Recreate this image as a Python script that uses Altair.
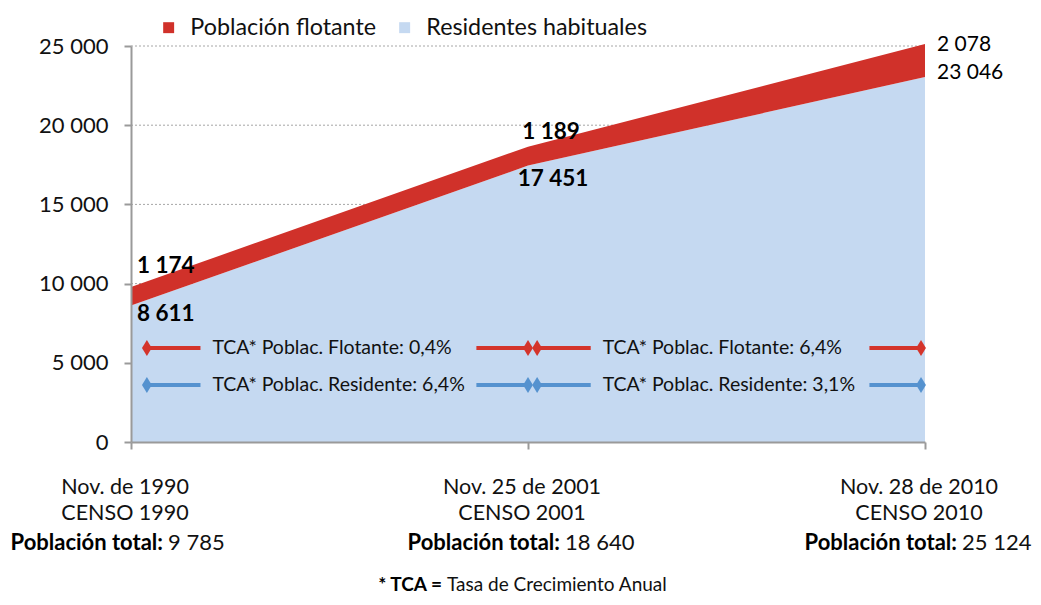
import altair as alt
import pandas as pd

# ---------------- data ----------------
periods = [0, 1, 2]
fecha = ["Nov. de 1990", "Nov. 25 de 2001", "Nov. 28 de 2010"]
censo = ["CENSO 1990", "CENSO 2001", "CENSO 2010"]
residentes = [8611, 17451, 23046]
flotante = [1174, 1189, 2078]
series = ["Población flotante", "Residentes habituales"]
series_colors = ["#d0312a", "#c5d9f1"]
y_ticks = [0, 5000, 10000, 15000, 20000, 25000]
tca_flot = ["TCA* Poblac. Flotante: 0,4%", "TCA* Poblac. Flotante: 6,4%"]
tca_res = ["TCA* Poblac. Residente: 6,4%", "TCA* Poblac. Residente: 3,1%"]
seg_index = [0, 1]

FONT = "Lato"
W, H = 794, 396
RED_LINE = "#d4342b"
BLUE_LINE = "#5592cf"


def fmt(v):
    return f"{v:,}".replace(",", " ")


totals = [r + f for r, f in zip(residentes, flotante)]

area_df = pd.DataFrame(
    {
        "period": periods * 2,
        "series": [series[1]] * 3 + [series[0]] * 3,
        "lower": [0, 0, 0] + residentes,
        "upper": residentes + totals,
    }
)

lab_df = pd.DataFrame(
    {
        "period": periods,
        "res": residentes,
        "tot": totals,
        "res_lbl": [fmt(v) for v in residentes],
        "flo_lbl": [fmt(v) for v in flotante],
        "tot_lbl": [fmt(v) for v in totals],
        "fecha": fecha,
        "censo": censo,
    }
)

grid_df = pd.DataFrame({"tick": y_ticks[1:]})

xscale = alt.Scale(domain=[0, 2], nice=False, zero=False)
yscale = alt.Scale(domain=[0, 25000], nice=False)

base = alt.Chart(lab_df)

grid = (
    alt.Chart(grid_df)
    .mark_rule(color="#a6a6a6", strokeWidth=1, strokeDash=[2, 2])
    .encode(y=alt.Y("tick:Q", scale=yscale), x=alt.value(0), x2=alt.value(W))
)

area = (
    alt.Chart(area_df)
    .mark_area(opacity=1, clip=False)
    .encode(
        x=alt.X(
            "period:Q",
            scale=xscale,
            axis=alt.Axis(
                values=periods,
                labels=False,
                title=None,
                grid=False,
                domainColor="#9a9a9a",
                domainWidth=2,
                tickColor="#9a9a9a",
                tickWidth=2,
                tickSize=7,
                zindex=1,
            ),
        ),
        y=alt.Y(
            "upper:Q",
            scale=yscale,
            axis=alt.Axis(
                values=y_ticks,
                title=None,
                grid=False,
                labelExpr="datum.value >= 1000 ? floor(datum.value/1000) + ' 000' : '0'",
                labelFont=FONT,
                labelFontSize=22,
                labelColor="#111111",
                labelPadding=16,
                domainColor="#9a9a9a",
                domainWidth=2,
                tickColor="#9a9a9a",
                tickWidth=2,
                tickSize=7,
                zindex=1,
            ),
        ),
        y2="lower:Q",
        color=alt.Color(
            "series:N",
            scale=alt.Scale(domain=series, range=series_colors),
            legend=alt.Legend(
                title=None,
                orient="none",
                direction="horizontal",
                legendX=26,
                legendY=-30,
                symbolType="square",
                symbolSize=120,
                symbolStrokeWidth=0,
                labelFont=FONT,
                labelFontSize=23.3,
                labelColor="#111111",
                labelOffset=10,
                labelLimit=0,
                columnPadding=17,
            ),
        ),
    )
)

diamond = "M0,-1L0.62,0L0,1L-0.62,0Z"

tca_layers = []
seg_df = pd.DataFrame({"i": seg_index, "flot": tca_flot, "res": tca_res})
for field, ypix, col in [("flot", 302, RED_LINE), ("res", 339, BLUE_LINE)]:
    sb = (
        alt.Chart(seg_df)
        .transform_calculate(s=alt.datum.i * 0.983 + 0.04, e=alt.datum.i * 0.99 + 1.0)
        .transform_calculate(
            a_end=alt.datum.s + 0.135,
            b_start=alt.datum.e - 0.13,
            t=alt.datum.s + 0.165,
        )
    )
    tca_layers.append(
        sb.mark_rule(color=col, strokeWidth=4).encode(
            x=alt.X("s:Q", scale=xscale), x2="a_end:Q", y=alt.value(ypix)
        )
    )
    tca_layers.append(
        sb.mark_rule(color=col, strokeWidth=4).encode(
            x=alt.X("b_start:Q", scale=xscale), x2="e:Q", y=alt.value(ypix)
        )
    )
    for pf in ["s", "e"]:
        tca_layers.append(
            sb.mark_point(shape=diamond, filled=True, size=250, color=col, opacity=1).encode(
                x=alt.X(f"{pf}:Q", scale=xscale), y=alt.value(ypix)
            )
        )
    tca_layers.append(
        sb.mark_text(
            align="left", baseline="middle", font=FONT, fontSize=19.5, color="#111111"
        ).encode(x=alt.X("t:Q", scale=xscale), y=alt.value(ypix), text=f"{field}:N")
    )

# value labels
val_specs = [
    (0, "tot", "flo_lbl", "left", 6, -21, "bold", 22.5),
    (0, "res", "res_lbl", "left", 6, 8, "bold", 22.5),
    (1, "tot", "flo_lbl", "center", 23, -15, "bold", 22.5),
    (1, "res", "res_lbl", "center", 25, 13, "bold", 22.5),
    (2, "tot", "flo_lbl", "left", 12, 1, "normal", 21),
    (2, "res", "res_lbl", "left", 12, -4, "normal", 21),
]
val_layers = []
for p, yf, tf, al, dx, dy, fw, fs in val_specs:
    val_layers.append(
        base.transform_filter(alt.datum.period == p)
        .mark_text(
            align=al, baseline="middle", dx=dx, dy=dy, font=FONT, fontSize=fs,
            fontWeight=fw, color="#000000",
        )
        .encode(x=alt.X("period:Q", scale=xscale), y=alt.Y(f"{yf}:Q", scale=yscale), text=f"{tf}:N")
    )

# x-axis labels
xl = []
xl.append(
    base.mark_text(align="center", baseline="middle", dx=-6, font=FONT, fontSize=21.5, color="#111111")
    .encode(x=alt.X("period:Q", scale=xscale), y=alt.value(H + 46), text="fecha:N")
)
xl.append(
    base.mark_text(align="center", baseline="middle", dx=-6, font=FONT, fontSize=21.5, color="#111111")
    .encode(x=alt.X("period:Q", scale=xscale), y=alt.value(H + 72), text="censo:N")
)
xl.append(
    base.mark_text(align="right", baseline="middle", dx=32, font=FONT, fontSize=22,
                   fontWeight="bold", color="#000000", text="Población total:")
    .encode(x=alt.X("period:Q", scale=xscale), y=alt.value(H + 101))
)
xl.append(
    base.mark_text(align="left", baseline="middle", dx=37, font=FONT, fontSize=22, color="#111111")
    .encode(x=alt.X("period:Q", scale=xscale), y=alt.value(H + 101), text="tot_lbl:N")
)

foot_df = pd.DataFrame({"a": ["* TCA ="], "b": ["Tasa de Crecimiento Anual"]})
foot = [
    alt.Chart(foot_df)
    .mark_text(align="right", baseline="middle", font=FONT, fontSize=19, fontWeight="bold", color="#000")
    .encode(x=alt.value(311), y=alt.value(H + 143), text="a:N"),
    alt.Chart(foot_df)
    .mark_text(align="left", baseline="middle", font=FONT, fontSize=19, color="#111111")
    .encode(x=alt.value(316), y=alt.value(H + 143), text="b:N"),
]

chart = (
    alt.layer(grid, area, *tca_layers, *val_layers, *xl, *foot)
    .properties(
        width=W,
        height=H,
        autosize=alt.AutoSizeParams(type="none"),
        padding={"left": 123, "top": 38, "right": 108, "bottom": 155},
        background="white",
    )
    .configure_view(stroke=None)
)

chart.save("out.html", embed_options={"renderer": "svg", "actions": False})
